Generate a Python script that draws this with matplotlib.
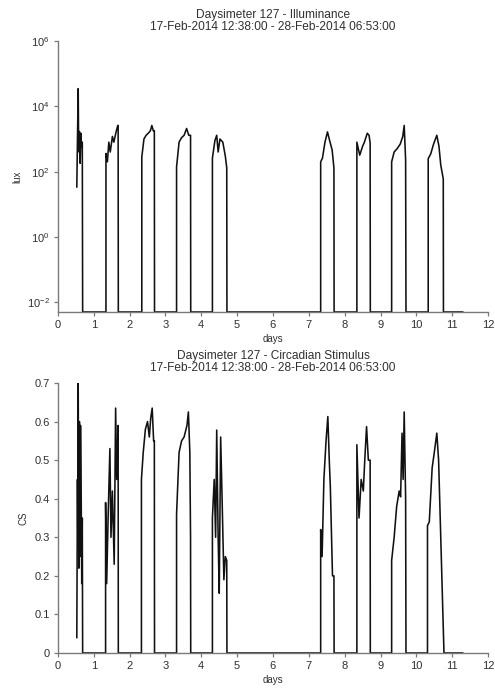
import numpy as np
import matplotlib.pyplot as plt
from matplotlib.ticker import FixedLocator, NullLocator

plt.rcParams['font.family'] = ['Liberation Sans', 'DejaVu Sans']

title_lux = 'Daysimeter 127 - Illuminance\n17-Feb-2014 12:38:00 - 28-Feb-2014 06:53:00'
title_cs = 'Daysimeter 127 - Circadian Stimulus\n17-Feb-2014 12:38:00 - 28-Feb-2014 06:53:00'

# illuminance samples (days since midnight 17-Feb, lux)
lux_days = [0.527, 0.545, 0.566, 0.575, 0.59, 0.60, 0.62, 0.64, 0.66, 0.68, 0.69,
            1.34, 1.34, 1.38, 1.42, 1.46, 1.52, 1.56, 1.62, 1.67, 1.68, 1.685,
            2.34, 2.34, 2.40, 2.46, 2.52, 2.58, 2.62, 2.66, 2.69, 2.695,
            3.31, 3.31, 3.38, 3.45, 3.52, 3.59, 3.65, 3.70, 3.705,
            4.31, 4.31, 4.38, 4.43, 4.47, 4.52, 4.60, 4.67, 4.71, 4.715,
            7.33, 7.33, 7.38, 7.45, 7.52, 7.58, 7.65, 7.70, 7.705,
            8.34, 8.34, 8.42, 8.50, 8.55, 8.63, 8.68, 8.71, 8.715,
            9.31, 9.31, 9.38, 9.46, 9.55, 9.62, 9.66, 9.70, 9.71,
            10.33, 10.33, 10.40, 10.48, 10.57, 10.63, 10.68, 10.75, 10.755,
            11.29]
lux_vals = [34, 900, 35000, 1700, 400, 1700, 180, 1500, 575, 800, 0,
            0, 360, 200, 800, 400, 1200, 800, 1600, 2600, 2600, 0,
            0, 280, 1000, 1300, 1500, 1800, 2600, 1800, 1800, 0,
            0, 140, 800, 1100, 1300, 2100, 1300, 1300, 0,
            0, 260, 900, 1300, 400, 1000, 800, 300, 130, 0,
            0, 200, 260, 800, 1650, 900, 460, 130, 0,
            0, 800, 320, 600, 800, 1500, 1300, 750, 0,
            0, 200, 400, 500, 700, 1200, 2600, 230, 0,
            0, 250, 350, 700, 1300, 600, 160, 60, 0,
            0]

# circadian stimulus samples
cs_days = [0.527, 0.545, 0.555, 0.566, 0.575, 0.585, 0.60, 0.615, 0.63, 0.65, 0.665, 0.68, 0.69,
           1.33, 1.33, 1.36, 1.40, 1.45, 1.48, 1.52, 1.57, 1.61, 1.64, 1.68, 1.685,
           2.33, 2.33, 2.38, 2.44, 2.50, 2.55, 2.59, 2.63, 2.67, 2.69, 2.695,
           3.31, 3.31, 3.38, 3.45, 3.52, 3.60, 3.64, 3.68, 3.70, 3.705,
           4.31, 4.31, 4.36, 4.40, 4.43, 4.47, 4.50, 4.54, 4.58, 4.63, 4.67, 4.71, 4.715,
           7.33, 7.33, 7.37, 7.42, 7.48, 7.53, 7.57, 7.60, 7.66, 7.70, 7.705,
           8.34, 8.34, 8.40, 8.46, 8.52, 8.56, 8.61, 8.66, 8.71, 8.715,
           9.31, 9.31, 9.38, 9.45, 9.52, 9.56, 9.60, 9.63, 9.66, 9.70, 9.71,
           10.31, 10.31, 10.36, 10.44, 10.50, 10.57, 10.62, 10.77,
           11.29]
cs_vals = [0.04, 0.45, 0.30, 0.70, 0.45, 0.22, 0.60, 0.25, 0.59, 0.40, 0.18, 0.35, 0,
           0, 0.39, 0.18, 0.35, 0.53, 0.30, 0.42, 0.23, 0.635, 0.45, 0.59, 0,
           0, 0.45, 0.52, 0.58, 0.60, 0.56, 0.61, 0.635, 0.55, 0.55, 0,
           0, 0.36, 0.52, 0.55, 0.56, 0.59, 0.625, 0.52, 0.30, 0,
           0, 0.35, 0.45, 0.30, 0.578, 0.30, 0.155, 0.56, 0.40, 0.19, 0.25, 0.24, 0,
           0, 0.32, 0.25, 0.45, 0.55, 0.613, 0.50, 0.43, 0.20, 0.20, 0,
           0, 0.54, 0.35, 0.45, 0.42, 0.50, 0.587, 0.50, 0.50, 0,
           0, 0.24, 0.30, 0.38, 0.42, 0.405, 0.57, 0.45, 0.625, 0.40, 0,
           0, 0.33, 0.34, 0.48, 0.52, 0.57, 0.50, 0,
           0]

x_ticks = list(range(0, 13))
lux_ticks = [1e-2, 1e0, 1e2, 1e4, 1e6]
cs_ticks = [0, 0.1, 0.2, 0.3, 0.4, 0.5, 0.6, 0.7]

lux_floor = 0.005
grey = '#7a7a7a'
txt = '#303030'

fig = plt.figure(figsize=(4.95, 6.91), dpi=100)
ax1 = fig.add_axes([0.117, 0.5485, 0.869, 0.392])
ax2 = fig.add_axes([0.117, 0.055, 0.869, 0.3907])


def style(ax):
    for s in ['top', 'right']:
        ax.spines[s].set_visible(False)
    for s in ['left', 'bottom']:
        ax.spines[s].set_color(grey)
        ax.spines[s].set_linewidth(1.0)
    ax.tick_params(direction='out', length=3, width=0.9, color=grey,
                   labelsize=8, labelcolor=txt, pad=3)
    ax.set_xlim(0, 12)
    ax.set_xticks(x_ticks)
    ax.set_xlabel('days', fontsize=7, color=txt, labelpad=3)


ax1.plot(lux_days, np.clip(lux_vals, lux_floor, None), color='#111111', lw=1.15)
ax1.set_yscale('log')
ax1.set_ylim(lux_floor, 1e6)
ax1.yaxis.set_major_locator(FixedLocator(lux_ticks))
ax1.yaxis.set_minor_locator(NullLocator())
style(ax1)
ax1.set_ylabel('lux', fontsize=7, color=txt, labelpad=3)
ax1.set_title(title_lux, fontsize=8.6, color=txt, pad=8, linespacing=1.0)

ax2.plot(cs_days, cs_vals, color='#111111', lw=1.15)
ax2.set_ylim(0, 0.7)
ax2.set_yticks(cs_ticks)
ax2.set_yticklabels(['0'] + ['%.1f' % v for v in cs_ticks[1:]])
style(ax2)
ax2.set_ylabel('CS', fontsize=7, color=txt, labelpad=4)
ax2.set_title(title_cs, fontsize=8.6, color=txt, pad=9, linespacing=1.0)

fig.savefig('out.png', dpi=100)
